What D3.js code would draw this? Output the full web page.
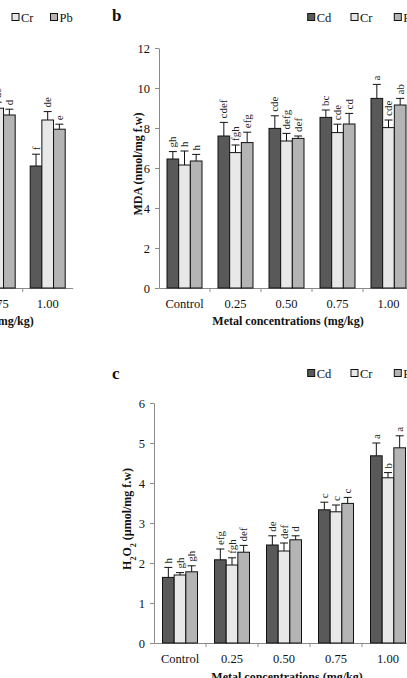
<!DOCTYPE html>
<html>
<head>
<meta charset="utf-8">
<script src="https://cdn.jsdelivr.net/npm/d3@7/dist/d3.min.js"></script>
<style>
  html, body { margin: 0; padding: 0; background: #fff; overflow: hidden; }
  svg { display: block; font-family: "Liberation Serif", "Times New Roman", serif; }
  .axis .domain { stroke: #8a8a8a; }
  .axis line { stroke: #8a8a8a; }
  .axis text { fill: #111; font-size: 12.5px; font-family: "Liberation Serif", "Times New Roman", serif; }
  .bar { stroke: #111; stroke-width: 1; }
  .err { stroke: #111; stroke-width: 1; fill: none; }
  .letter { fill: #222; font-size: 11px; }
  .title { font-weight: bold; font-size: 12px; fill: #111; }
  .panel { font-weight: bold; font-size: 17px; fill: #111; }
  .legend { font-size: 12.5px; fill: #111; }
</style>
</head>
<body>
<div id="chart"></div>
<script>
const categories = ["Control", "0.25", "0.50", "0.75", "1.00"];
const metals = ["Cd", "Cr", "Pb"];

// panel a: only the 0.75 and 1.00 groups are inside the picture
const aCd = [null, null, null, null, 6.1];
const aCr = [null, null, null, 8.99, 8.4];
const aPb = [null, null, null, 8.65, 7.94];
const aCdErr = [null, null, null, null, 0.59];
const aCrErr = [null, null, null, 0.3, 0.42];
const aPbErr = [null, null, null, 0.29, 0.25];
const aCdLetters = ["", "", "", "", "f"];
const aCrLetters = ["", "", "", "de", "de"];
const aPbLetters = ["", "", "", "d", "e"];

// panel b: MDA
const mdaCd = [6.45, 7.6, 7.98, 8.53, 9.48];
const mdaCr = [6.15, 6.77, 7.35, 7.77, 8.02];
const mdaPb = [6.35, 7.27, 7.48, 8.2, 9.15];
const mdaCdErr = [0.37, 0.68, 0.63, 0.37, 0.7];
const mdaCrErr = [0.7, 0.38, 0.38, 0.42, 0.38];
const mdaPbErr = [0.33, 0.52, 0.12, 0.53, 0.33];
const mdaCdLetters = ["gh", "cdef", "cde", "bc", "a"];
const mdaCrLetters = ["h", "fgh", "defg", "cde", "cde"];
const mdaPbLetters = ["h", "efg", "def", "cd", "ab"];
const mdaTicks = [0, 2, 4, 6, 8, 10, 12];

// panel c: H2O2
const h2o2Cd = [1.64, 2.08, 2.45, 3.33, 4.68];
const h2o2Cr = [1.7, 1.95, 2.3, 3.28, 4.13];
const h2o2Pb = [1.78, 2.27, 2.58, 3.49, 4.88];
const h2o2CdErr = [0.25, 0.27, 0.23, 0.19, 0.32];
const h2o2CrErr = [0.06, 0.18, 0.2, 0.17, 0.13];
const h2o2PbErr = [0.15, 0.17, 0.1, 0.15, 0.3];
const h2o2CdLetters = ["h", "efg", "de", "c", "a"];
const h2o2CrLetters = ["gh", "fgh", "def", "c", "b"];
const h2o2PbLetters = ["gh", "def", "d", "c", "a"];
const h2o2Ticks = [0, 1, 2, 3, 4, 5, 6];

const colors = {Cd: "#595959", Cr: "#e8e8e8", Pb: "#b4b4b4"};

const W = 407, H = 678;
const svg = d3.select("#chart").append("svg")
  .attr("width", W)
  .attr("height", H);

function drawPanel(p) {
  const g = svg.append("g");

  const x = d3.scaleBand().domain(categories).range(p.xRange).padding(0);
  const inner = d3.scaleBand().domain(metals).range([0, 35]).padding(0);
  const y = d3.scaleLinear().domain(p.yDomain).range(p.yRange);

  // y axis (panel a has its y axis outside the picture)
  if (p.ticks) {
    g.append("g")
      .attr("class", "axis")
      .attr("transform", "translate(" + p.xRange[0] + ",0)")
      .call(d3.axisLeft(y).tickValues(p.ticks).tickFormat(d3.format("d"))
        .tickSize(4).tickSizeOuter(0).tickPadding(5));
  }

  // x axis: labels at centres, ticks at band edges
  const xAxis = g.append("g")
    .attr("class", "axis")
    .attr("transform", "translate(0," + p.yRange[0] + ")")
    .call(d3.axisBottom(x).tickSize(0).tickPadding(9));
  xAxis.selectAll(".tick text").attr("dy", "0.9em");
  xAxis.selectAll(".tick").filter(function (d) { return x(d) + x.bandwidth() < 0; }).remove();
  const edges = categories.slice(1).map(function (c) { return x(c); });
  xAxis.selectAll(".edge").data(edges).enter().append("line")
    .attr("class", "edge")
    .attr("x1", function (d) { return d; })
    .attr("x2", function (d) { return d; })
    .attr("y1", 0).attr("y2", 4);

  const rows = [];
  metals.forEach(function (m, i) {
    categories.forEach(function (c, j) {
      if (p.values[i][j] == null) return;
      rows.push({metal: m, cat: c, v: p.values[i][j], e: p.errors[i][j], l: p.letters[i][j]});
    });
  });

  function bx(d) { return x(d.cat) + x.bandwidth() / 2 - 17.5 + inner(d.metal); }
  function cx(d) { return bx(d) + inner.bandwidth() / 2; }

  g.selectAll(".bar-" + p.name).data(rows).enter().append("rect")
    .attr("class", "bar")
    .attr("x", bx)
    .attr("width", inner.bandwidth())
    .attr("y", function (d) { return y(d.v); })
    .attr("height", function (d) { return y(0) - y(d.v); })
    .attr("fill", function (d) { return colors[d.metal]; });

  g.selectAll(".err-" + p.name).data(rows).enter().append("path")
    .attr("class", "err")
    .attr("d", function (d) {
      const c = cx(d), top = y(d.v + d.e);
      return "M" + c + "," + y(d.v) + "V" + top + "M" + (c - 4) + "," + top + "H" + (c + 4);
    });

  g.selectAll(".letter-" + p.name).data(rows).enter().append("text")
    .attr("class", "letter")
    .attr("transform", function (d) {
      return "translate(" + (cx(d) + 3.5) + "," + (y(d.v + d.e) - 4) + ") rotate(-90)";
    })
    .text(function (d) { return d.l; });

  // axis titles
  g.append("text")
    .attr("class", "title")
    .attr("x", p.xTitle[0]).attr("y", p.xTitle[1])
    .attr("text-anchor", "middle")
    .text("Metal concentrations (mg/kg)");

  if (p.yTitle) {
    const t = g.append("text")
      .attr("class", "title")
      .attr("text-anchor", "middle")
      .attr("transform", "translate(" + p.yTitle[0] + "," + p.yTitle[1] + ") rotate(-90)");
    p.yLabel.forEach(function (part) {
      const s = t.append("tspan").text(part.t);
      if (part.sub) s.attr("baseline-shift", "sub").attr("font-size", "8px");
    });
  }

  // legend (items left of the picture are skipped)
  const leg = g.append("g").attr("class", "legendg");
  metals.forEach(function (m, i) {
    const lx = p.legend[0] + i * p.legend[2];
    if (lx < 0) return;
    leg.append("rect")
      .attr("x", lx).attr("y", p.legend[1] - 3.5)
      .attr("width", 7).attr("height", 7)
      .attr("fill", colors[m]).attr("stroke", "#111").attr("stroke-width", 1);
    leg.append("text")
      .attr("class", "legend")
      .attr("x", lx + 9).attr("y", p.legend[1] + 4.5)
      .text(m);
  });

  if (p.label) {
    g.append("text")
      .attr("class", "panel")
      .attr("x", p.label[0]).attr("y", p.label[1])
      .text(p.name);
  }
}

drawPanel({
  name: "a",
  xRange: [-177.3, 72.7],
  yRange: [288, 48],
  yDomain: [0, 12],
  values: [aCd, aCr, aPb],
  errors: [aCdErr, aCrErr, aPbErr],
  letters: [aCdLetters, aCrLetters, aPbLetters],
  xTitle: [-42, 325],
  legend: [-26.5, 17, 38.5]
});

drawPanel({
  name: "b",
  xRange: [159, 414],
  yRange: [288, 48],
  yDomain: [0, 12],
  ticks: mdaTicks,
  values: [mdaCd, mdaCr, mdaPb],
  errors: [mdaCdErr, mdaCrErr, mdaPbErr],
  letters: [mdaCdLetters, mdaCrLetters, mdaPbLetters],
  xTitle: [288, 325],
  yTitle: [142, 164],
  yLabel: [{t: "MDA (nmol/mg f.w)"}],
  legend: [307.7, 17, 43.3],
  label: [112, 21]
});

drawPanel({
  name: "c",
  xRange: [154, 414],
  yRange: [643, 403],
  yDomain: [0, 6],
  ticks: h2o2Ticks,
  values: [h2o2Cd, h2o2Cr, h2o2Pb],
  errors: [h2o2CdErr, h2o2CrErr, h2o2PbErr],
  letters: [h2o2CdLetters, h2o2CrLetters, h2o2PbLetters],
  xTitle: [287, 681],
  yTitle: [131, 519],
  yLabel: [{t: "H"}, {t: "2", sub: true}, {t: "O"}, {t: "2", sub: true}, {t: " (\u00b5mol/mg f.w)"}],
  legend: [307.7, 373, 43.3],
  label: [112, 379]
});
</script>
</body>
</html>
